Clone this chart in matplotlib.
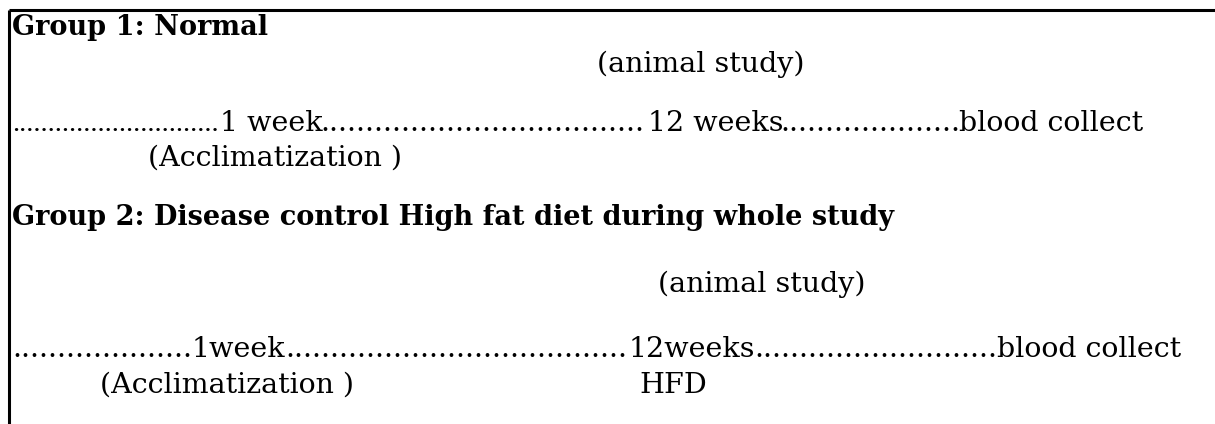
import matplotlib
matplotlib.use("Agg")
import matplotlib.pyplot as plt

# ---- content -------------------------------------------------------------
group_titles = ["Group 1: Normal",
                "Group 2: Disease control High fat diet during whole study"]
study_labels = ["(animal study)", "(animal study)"]
timeline1_labels = ["1 week", "12 weeks", "blood collect"]
timeline2_labels = ["1week", "12weeks", "blood collect"]
under1_labels = ["(Acclimatization )"]
under2_labels = ["(Acclimatization )", "HFD"]

# ---- layout (pixel positions: left x, baseline y) -------------------------
W, H = 1215, 424
FONT = ["DejaVu Serif"]
SIZE = 20.5
BSIZE = 19.5

title_pos = [(12, 35), (12, 225)]
study_pos = [(597, 72), (658, 292)]
tl1_pos = [(220, 131), (648, 131), (959, 131)]
tl2_pos = [(192, 357), (629, 357), (997, 357)]
under1_pos = [(148, 166)]
under2_pos = [(100, 393), (639, 393)]
# dot leaders: (x start, x end, baseline y, dense?)
leaders = [(12, 218, 131, True), (320, 646, 131, False), (780, 957, 131, False),
           (12, 190, 357, False), (285, 627, 357, False), (754, 995, 357, False)]

fig = plt.figure(figsize=(W / 100, H / 100), dpi=100)
ax = fig.add_axes([0, 0, 1, 1])
ax.set_xlim(0, W)
ax.set_ylim(H, 0)
ax.axis("off")

# frame: top and left rules
ax.plot([8.5, W], [9.5, 9.5], color="black", lw=2.2, solid_capstyle="butt")
ax.plot([8.5, 8.5], [9.5, H], color="black", lw=2.2, solid_capstyle="butt")

def put(s, xy, bold=False):
    return ax.text(xy[0], xy[1], s, family=FONT, fontsize=BSIZE if bold else SIZE,
                   fontweight="bold" if bold else "normal", color="black",
                   ha="left", va="baseline")

for s, p in zip(group_titles, title_pos):
    put(s, p, bold=True)
for s, p in zip(study_labels, study_pos):
    put(s, p)
for s, p in zip(timeline1_labels, tl1_pos):
    put(s, p)
for s, p in zip(timeline2_labels, tl2_pos):
    put(s, p)
for s, p in zip(under1_labels, under1_pos):
    put(s, p)
for s, p in zip(under2_labels, under2_pos):
    put(s, p)

# dot leaders sized to fill each gap
fig.canvas.draw()
r = fig.canvas.get_renderer()
for x0, x1, y, dense in leaders:
    fam = ["Liberation Serif"] if dense else FONT
    probe = ax.text(0, 0, "." * 20, family=fam, fontsize=SIZE)
    bb = probe.get_window_extent(renderer=r)
    step = bb.width / 20
    probe.remove()
    n = max(1, int(round((x1 - x0) / step)))
    ax.text(x0, y, "." * n, family=fam, fontsize=SIZE, color="black",
            ha="left", va="baseline")

fig.savefig("out.png", dpi=100, facecolor="white")
